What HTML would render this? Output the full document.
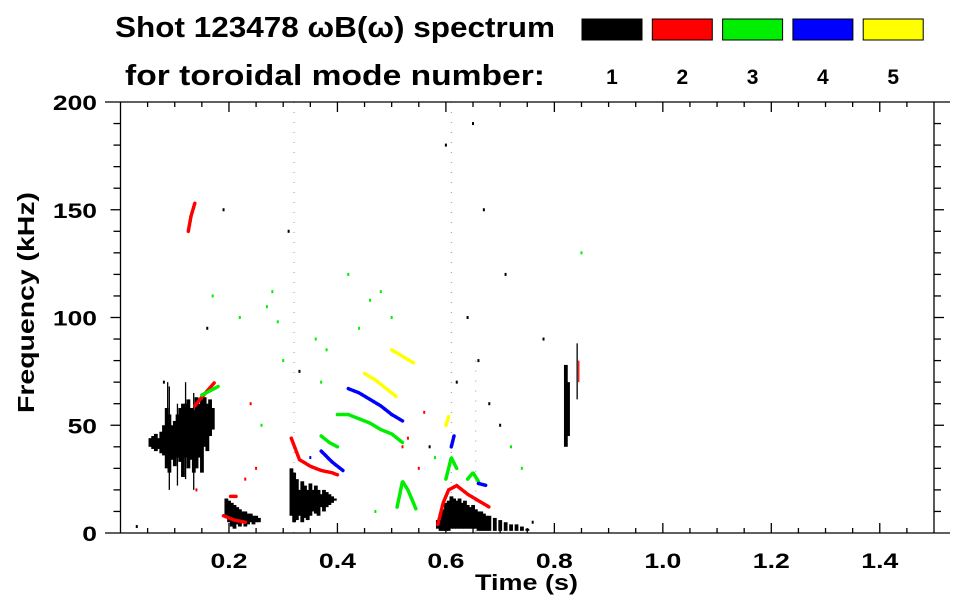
<!DOCTYPE html>
<html><head><meta charset="utf-8">
<style>
html,body{margin:0;padding:0;background:#fff;}
svg{display:block;font-family:"Liberation Sans",sans-serif;font-weight:bold;}
</style></head>
<body>
<svg id="chart" width="963" height="615" viewBox="0 0 963 615" xmlns="http://www.w3.org/2000/svg">
<text x="115" y="37" font-size="29" textLength="440" lengthAdjust="spacingAndGlyphs">Shot 123478 ωB(ω) spectrum</text>
<text x="125" y="85" font-size="29" textLength="420" lengthAdjust="spacingAndGlyphs">for toroidal mode number:</text>
<g id="legend"></g>
<g id="marks"></g>
<g id="axes"></g>
<text x="475" y="590" font-size="22" textLength="103" lengthAdjust="spacingAndGlyphs">Time (s)</text>
<text transform="translate(34,413) rotate(-90)" font-size="23" textLength="221" lengthAdjust="spacingAndGlyphs">Frequency (kHz)</text>
</svg>
<script>
// ---- data ----
const modeColors = ["#000000","#ff0000","#00ee00","#0000ff","#ffff00"];
const modeLabels = ["1","2","3","4","5"];
const xTicks = [0.2,0.4,0.6,0.8,1.0,1.2,1.4];
const xTickLabels = ["0.2","0.4","0.6","0.8","1.0","1.2","1.4"];
const yTicks = [0,50,100,150,200];
const yTickLabels = ["0","50","100","150","200"];
// black (n=1) blob columns: time, low freq, high freq
const blobT = [0.055,0.06,0.065,0.07,0.075,0.08,0.085,0.09,0.095,0.10,0.105,0.11,0.115,0.12,0.125,0.13,0.135,0.14,0.145,0.15,0.155,0.16,0.165,0.17,
 0.195,0.2,0.205,0.21,0.215,0.22,0.225,0.23,0.235,0.24,0.245,0.25,0.255,
 0.315,0.32,0.325,0.33,0.335,0.34,0.345,0.35,0.355,0.36,0.365,0.37,0.375,0.38,0.385,0.39,0.395,
 0.585,0.59,0.595,0.6,0.605,0.61,0.615,0.62,0.625,0.63,0.635,0.64,0.645,0.65,0.655,0.66,0.665,0.67,0.675,0.68,0.69,0.7,0.71,0.72,0.73,0.74,0.75,
 0.821,0.825];
const blobLo = [40,39,38,39,37,36,30,28,34,31,35,33,26,35,30,34,28,30,35,28,40,38,45,48,
 8,5,3,2,4,3,5,3,4,5,4,5,5,
 8,5,6,8,5,7,6,8,10,9,8,12,10,12,13,14,15,
 2,1,1,1,1,2,2,2,2,2,2,2,2,2,2,1,1,1,1,1,1,1,1,1,1,1,1,
 40,45];
const blobHi = [44,45,46,44,47,50,58,55,50,52,55,58,60,60,62,58,57,63,60,62,63,60,62,58,
 16,15,14,13,12,11,10,10,9,9,8,8,7,
 30,28,25,20,24,22,20,23,20,22,20,18,20,19,18,17,16,
 6,9,11,14,15,17,16,15,16,14,15,13,12,13,11,10,10,9,8,8,7,6,5,4,4,3,2,
 78,70];
// thin streaks: time, low, high, mode
const streakT = [0.09,0.105,0.12,0.135,0.15,0.842,0.845,0.087];
const streakLo = [20,22,25,20,30,62,70,45];
const streakHi = [68,60,70,65,64,88,80,70];
const streakMode = [0,0,0,0,0,0,1,0];
// coherent mode tracks
const trackMode = [1,1,1,1,1,1,2,2,2,2,2,2,3,3,3,3,4,4,4];
const trackT = [
 [0.137,0.15,0.16,0.174],[0.125,0.13,0.137],[0.315,0.33,0.35,0.37,0.39,0.4],[0.585,0.595,0.605,0.62,0.64,0.66,0.68],[0.19,0.21,0.23],[0.203,0.213],
 [0.15,0.165,0.18],[0.4,0.42,0.44,0.46,0.48,0.5,0.52],[0.37,0.385,0.4],[0.51,0.52,0.53,0.545],[0.6,0.61,0.62],[0.64,0.65,0.66],
 [0.42,0.44,0.46,0.48,0.5,0.52],[0.37,0.39,0.41],[0.61,0.615],[0.66,0.675],
 [0.45,0.47,0.49,0.51],[0.5,0.52,0.54],[0.6,0.605]];
const trackF = [
 [59,63,66,70],[140,147,153],[44,34,31,29,28,27],[4,14,20,22,18,15,12],[8,6,5],[17,17],
 [64,66,68],[55,55,53,51,48,46,42],[45,42,40],[12,24,20,11],[25,35,30],[25,28,24],
 [67,65,62,59,55,52],[38,33,29],[40,45],[23,22],
 [74,71,67,63],[85,82,79],[50,54]];
// sparse dots: time, freq, mode
const dotT = [0.03,0.08,0.16,0.17,0.19,0.24,0.26,0.27,0.28,0.29,0.3,0.33,0.36,0.37,0.38,0.42,0.44,0.46,0.48,0.5,0.53,0.55,0.56,0.57,0.58,0.62,0.64,0.66,0.68,0.7,0.72,0.74,0.76,0.78,0.65,0.67,0.71,0.23,0.25,0.14,0.35,0.47,0.85,0.31,0.6,0.22,0.52];
const dotF = [3,70,95,110,150,60,50,105,112,98,80,75,90,70,85,120,95,108,112,100,44,30,56,40,35,70,100,80,60,50,40,30,5,90,190,150,120,25,30,20,35,10,130,140,180,100,40];
const dotM = [0,0,0,2,0,1,2,2,2,2,2,0,2,2,2,2,2,2,2,2,1,1,1,0,2,0,0,0,0,0,2,2,0,0,0,0,0,1,1,1,3,2,2,0,0,2,1];
// faint dotted vertical noise lines (time)
const noiseT = [0.32,0.61,0.655];
const noiseTop = [200,200,80];

// ---- scales ----
const X0=120.5, X1=934, Y0=533, Y1=102;
const xs = t => X0 + (t-0)/(1.5-0)*(X1-X0);
const ys = f => Y0 - f/200*(Y0-Y1);
const NS="http://www.w3.org/2000/svg";
function mk(tag, attrs, parent){const e=document.createElementNS(NS,tag);for(const k in attrs)e.setAttribute(k,attrs[k]);parent.appendChild(e);return e;}

const legend=document.getElementById('legend');
modeColors.forEach((c,i)=>{
  const r=mk('rect',{x:582+i*70.3,y:19,width:60,height:21,fill:c,stroke:'#000','stroke-width':1},legend);
  
  
  const t=mk('text',{x:612+i*70.3,y:84,'font-size':21,'text-anchor':'middle'},legend);
  t.textContent=modeLabels[i];
  
  
});

const marks=document.getElementById('marks');
noiseT.forEach((t,i)=>{
  const l=mk('line',{x1:xs(t),x2:xs(t),y1:ys(noiseTop[i]),y2:ys(0),stroke:'#999','stroke-width':1,'stroke-dasharray':'1 9'},marks);
  
  
});
blobT.forEach((t,i)=>{
  const r=mk('rect',{x:xs(t)-1.8,y:ys(blobHi[i]),width:3.8,height:Math.max(1,ys(blobLo[i])-ys(blobHi[i])),fill:'#000'},marks);
  
  
});
streakT.forEach((t,i)=>{
  const l=mk('line',{x1:xs(t),x2:xs(t),y1:ys(streakLo[i]),y2:ys(streakHi[i]),stroke:modeColors[streakMode[i]],'stroke-width':1.3},marks);
  
  
});
trackT.forEach((ts,i)=>{
  const pts=ts.map((t,j)=>xs(t).toFixed(1)+','+ys(trackF[i][j]).toFixed(1)).join(' ');
  const p=mk('polyline',{points:pts,fill:'none',stroke:modeColors[trackMode[i]],'stroke-width':3.5,'stroke-linecap':'round','stroke-dasharray':'3 1.5'},marks);
  
  
});
dotT.forEach((t,i)=>{
  const r=mk('rect',{x:xs(t)-1,y:ys(dotF[i])-1.5,width:2,height:3,fill:modeColors[dotM[i]]},marks);
  
  
});

// ---- axes ----
const axes=document.getElementById('axes');
const A={stroke:'#000','stroke-width':1.3};
function L(x1,y1,x2,y2,name){const l=mk('line',Object.assign({x1,y1,x2,y2},A),axes);}
L(105,Y0,950,Y0,'x-axis-bottom');L(105,Y1,950,Y1,'x-axis-top');
L(X0,Y1,X0,Y0,'y-axis-left');L(X1,Y1,X1,Y0,'y-axis-right');
for(let t=0.05;t<1.5;t+=0.05){
  const major=Math.abs(t*5-Math.round(t*5))<1e-6;
  const len=major?10:5;
  L(xs(t),Y0,xs(t),Y0-len,'x-tick');
  L(xs(t),Y1,xs(t),Y1+len,'x-tick-top');
}
for(let f=10;f<200;f+=10){
  const major=f%50===0;
  const len=major?10:7;
  L(X0,ys(f),X0-len,ys(f),'y-tick');
  L(X1,ys(f),X1+len,ys(f),'y-tick-right');
}
xTicks.forEach((t,i)=>{
  const tx=mk('text',{x:xs(t)-18.5,y:568,'font-size':21,textLength:37,lengthAdjust:'spacingAndGlyphs'},axes);
  tx.textContent=xTickLabels[i];
  
  
});
yTicks.forEach((f,i)=>{
  const w=yTickLabels[i].length*14.7;
  const tx=mk('text',{x:97-w,y:ys(f)+8,'font-size':21,textLength:w,lengthAdjust:'spacingAndGlyphs'},axes);
  tx.textContent=yTickLabels[i];
  
  
});
</script>
</body></html>
